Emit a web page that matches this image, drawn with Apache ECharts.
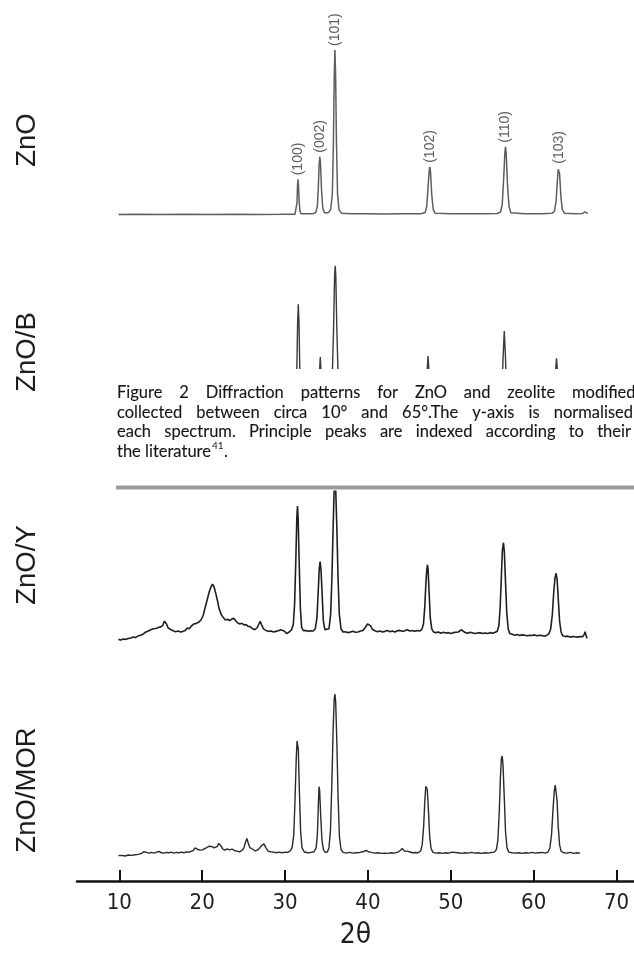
<!DOCTYPE html>
<html>
<head>
<meta charset="utf-8">
<script src="https://cdn.jsdelivr.net/npm/echarts@6/dist/echarts.min.js"></script>
<style>
  html, body { margin: 0; padding: 0; background: #fff; }
  #chart { width: 634px; height: 964px; }
</style>
</head>
<body>
<div id="chart"></div>
<script>
// ---- Diffraction data: [2θ (deg), normalised intensity] ----
const znoPattern = [
  [9.9,0],[12,0.001],[15,0],[18,0.001],[21,0],[24,0.001],[27,0],[29.5,0.001],[31.2,0.002],
  [31.35,0.012],[31.44,0.07],[31.5,0.17],[31.56,0.214],[31.62,0.18],[31.7,0.08],[31.8,0.02],[31.95,0.004],
  [33.3,0.004],[33.7,0.012],[33.9,0.05],[34.02,0.17],[34.12,0.31],[34.2,0.351],[34.28,0.31],[34.4,0.15],[34.55,0.04],[34.75,0.01],[35.2,0.01],
  [35.5,0.03],[35.7,0.12],[35.83,0.42],[35.93,0.82],[36.02,1.0],[36.1,0.85],[36.2,0.45],[36.33,0.13],[36.5,0.03],[36.8,0.008],
  [38,0.004],[40,0.005],[42,0.003],[44,0.005],[46.4,0.005],
  [46.9,0.012],[47.1,0.05],[47.27,0.18],[47.4,0.27],[47.47,0.29],[47.55,0.26],[47.7,0.12],[47.88,0.03],[48.1,0.008],
  [50,0.004],[52,0.005],[54,0.004],[55.6,0.006],
  [56,0.015],[56.2,0.06],[56.38,0.22],[56.52,0.38],[56.6,0.412],[56.68,0.37],[56.85,0.17],[57.02,0.05],[57.25,0.01],
  [59,0.004],[61,0.005],[62.2,0.007],
  [62.5,0.02],[62.7,0.08],[62.86,0.21],[62.96,0.275],[63.03,0.284],[63.12,0.25],[63.28,0.11],[63.45,0.03],[63.7,0.008],
  [65,0.004],[65.9,0.006],[66.15,0.016],[66.3,0.022],[66.4,0.01],[66.5,0.004]
];

const znoBetaPattern = [
  [10,0.02],[20,0.02],[30,0.02],[31.1,0.02],
  [31.25,0.06],[31.4,0.3],[31.52,0.65],[31.6,0.76],[31.68,0.65],[31.8,0.3],[31.95,0.06],[32.1,0.02],
  [33.8,0.02],[34.0,0.1],[34.15,0.33],[34.25,0.43],[34.35,0.33],[34.5,0.1],[34.7,0.02],
  [35.45,0.03],[35.65,0.22],[35.85,0.6],[35.98,0.94],[36.05,1.0],[36.12,0.94],[36.25,0.6],[36.45,0.22],[36.65,0.03],
  [46.7,0.02],[46.95,0.1],[47.12,0.33],[47.25,0.437],[47.38,0.33],[47.55,0.1],[47.8,0.02],
  [55.9,0.02],[56.1,0.1],[56.3,0.42],[56.45,0.593],[56.6,0.42],[56.8,0.1],[57.0,0.02],
  [62.2,0.02],[62.45,0.1],[62.62,0.33],[62.75,0.422],[62.88,0.33],[63.05,0.1],[63.3,0.02],
  [66,0.02]
];

const znoYPattern = [
  [9.9,0.004],[10.2,0.0],[10.5,0.006],[10.8,0.004],[11.1,0.01],[11.4,0.012],[11.7,0.018],[12.0,0.016],[12.3,0.026],[12.6,0.03],
  [12.9,0.038],[13.2,0.05],[13.5,0.056],[13.8,0.064],[14.1,0.07],[14.4,0.072],[14.7,0.078],[15.0,0.082],[15.25,0.092],[15.45,0.118],
  [15.55,0.13],[15.7,0.1],[15.9,0.075],[16.2,0.066],[16.5,0.058],[16.8,0.052],[17.1,0.056],[17.4,0.05],[17.7,0.054],[17.95,0.06],
  [18.2,0.075],[18.45,0.07],[18.75,0.09],[19.0,0.1],[19.3,0.104],[19.6,0.112],[19.85,0.125],[20.1,0.15],[20.35,0.2],[20.6,0.25],
  [20.85,0.3],[21.05,0.33],[21.25,0.35],[21.45,0.33],[21.65,0.29],[21.85,0.245],[22.05,0.195],[22.3,0.16],[22.55,0.14],[22.8,0.125],
  [23.05,0.13],[23.3,0.122],[23.55,0.13],[23.8,0.136],[24.05,0.12],[24.3,0.106],[24.55,0.1],[24.8,0.104],[25.05,0.094],[25.3,0.096],
  [25.55,0.085],[25.8,0.084],[26.05,0.072],[26.35,0.064],[26.65,0.078],[26.85,0.1],[27.0,0.116],[27.15,0.098],[27.4,0.07],[27.7,0.06],
  [28.0,0.054],[28.3,0.056],[28.6,0.05],[28.9,0.054],[29.2,0.058],[29.45,0.064],[29.65,0.068],[29.9,0.056],[30.2,0.04],[30.5,0.05],
  [30.8,0.065],[31.0,0.1],[31.15,0.22],[31.3,0.5],[31.42,0.76],[31.5,0.8375],[31.58,0.76],[31.7,0.5],[31.85,0.2],[32.0,0.08],
  [32.2,0.058],[32.5,0.06],[32.8,0.054],[33.1,0.058],[33.4,0.056],[33.65,0.07],[33.85,0.14],[34.0,0.3],[34.12,0.44],[34.23,0.49],
  [34.34,0.44],[34.48,0.28],[34.62,0.12],[34.8,0.065],[35.0,0.056],[35.3,0.07],[35.5,0.16],[35.65,0.38],[35.8,0.7],[35.92,0.93],
  [36.02,1.0],[36.12,0.93],[36.25,0.7],[36.4,0.38],[36.55,0.16],[36.75,0.07],[37.0,0.05],[37.3,0.052],[37.6,0.046],[37.9,0.05],
  [38.2,0.054],[38.5,0.048],[38.8,0.05],[39.1,0.056],[39.4,0.06],[39.7,0.08],[39.95,0.1],[40.1,0.108],[40.3,0.09],[40.55,0.066],
  [40.85,0.058],[41.15,0.052],[41.45,0.056],[41.75,0.05],[42.05,0.054],[42.35,0.06],[42.65,0.052],[42.95,0.056],[43.25,0.05],[43.55,0.058],
  [43.85,0.06],[44.15,0.054],[44.45,0.058],[44.75,0.064],[45.05,0.056],[45.35,0.06],[45.65,0.054],[45.95,0.06],[46.25,0.056],[46.5,0.066],
  [46.7,0.1],[46.85,0.2],[47.0,0.36],[47.1,0.44],[47.18,0.469],[47.26,0.44],[47.38,0.3],[47.52,0.14],[47.7,0.07],[47.9,0.05],
  [48.2,0.046],[48.5,0.05],[48.8,0.042],[49.1,0.048],[49.4,0.044],[49.7,0.046],[50.0,0.04],[50.3,0.046],[50.6,0.048],[50.9,0.05],
  [51.1,0.058],[51.25,0.064],[51.45,0.052],[51.75,0.046],[52.05,0.042],[52.35,0.048],[52.65,0.044],[52.95,0.04],[53.25,0.044],[53.55,0.046],
  [53.85,0.04],[54.15,0.044],[54.45,0.04],[54.75,0.046],[55.05,0.042],[55.35,0.048],[55.6,0.055],[55.8,0.09],[55.95,0.2],[56.1,0.4],
  [56.22,0.56],[56.35,0.608],[56.46,0.55],[56.6,0.36],[56.75,0.17],[56.92,0.07],[57.1,0.04],[57.4,0.036],[57.7,0.03],[58.0,0.034],
  [58.3,0.028],[58.6,0.032],[58.9,0.03],[59.2,0.026],[59.5,0.03],[59.8,0.028],[60.1,0.032],[60.4,0.026],[60.7,0.03],[61.0,0.028],
  [61.3,0.024],[61.6,0.03],[61.85,0.04],[62.05,0.07],[62.25,0.16],[62.42,0.3],[62.57,0.39],[62.7,0.417],[62.82,0.38],[62.96,0.26],
  [63.12,0.12],[63.3,0.05],[63.5,0.026],[63.8,0.022],[64.1,0.024],[64.4,0.018],[64.7,0.022],[65.0,0.02],[65.3,0.018],[65.6,0.022],
  [65.9,0.02],[66.1,0.035],[66.2,0.052],[66.3,0.03],[66.45,0.01]
];

const znoMorPattern = [
  [9.9,0.002],[10.3,0.004],[10.7,0.0],[11.1,0.006],[11.5,0.004],[11.9,0.008],[12.3,0.01],[12.7,0.016],[12.95,0.026],[13.1,0.032],
  [13.3,0.022],[13.6,0.018],[13.9,0.022],[14.2,0.018],[14.5,0.024],[14.8,0.028],[15.1,0.02],[15.4,0.018],[15.7,0.022],[16.0,0.02],
  [16.3,0.024],[16.6,0.018],[16.9,0.022],[17.2,0.02],[17.5,0.024],[17.8,0.02],[18.1,0.026],[18.4,0.022],[18.7,0.03],[18.95,0.034],
  [19.15,0.05],[19.3,0.056],[19.5,0.04],[19.8,0.036],[20.05,0.038],[20.3,0.046],[20.55,0.052],[20.8,0.06],[21.0,0.064],[21.2,0.058],
  [21.45,0.05],[21.65,0.046],[21.85,0.06],[22.0,0.078],[22.13,0.086],[22.3,0.06],[22.5,0.042],[22.75,0.036],[23.0,0.044],[23.3,0.038],
  [23.6,0.042],[23.9,0.034],[24.2,0.03],[24.5,0.026],[24.8,0.034],[25.05,0.05],[25.25,0.09],[25.4,0.108],[25.55,0.08],[25.75,0.052],
  [25.95,0.05],[26.15,0.04],[26.4,0.032],[26.65,0.036],[26.95,0.05],[27.2,0.066],[27.45,0.075],[27.7,0.05],[27.95,0.03],[28.25,0.026],
  [28.6,0.024],[28.95,0.02],[29.3,0.024],[29.65,0.02],[30.0,0.024],[30.3,0.022],[30.6,0.03],[30.85,0.05],[31.05,0.13],[31.2,0.34],
  [31.35,0.6],[31.45,0.71],[31.52,0.72],[31.6,0.66],[31.72,0.42],[31.88,0.15],[32.05,0.05],[32.3,0.026],[32.7,0.02],[33.1,0.022],
  [33.5,0.026],[33.75,0.05],[33.9,0.13],[34.02,0.32],[34.1,0.428],[34.18,0.4],[34.3,0.25],[34.45,0.1],[34.62,0.04],[34.85,0.022],
  [35.1,0.025],[35.3,0.05],[35.48,0.16],[35.65,0.45],[35.8,0.78],[35.93,0.97],[36.02,1.0],[36.11,0.95],[36.25,0.7],[36.4,0.36],
  [36.56,0.12],[36.75,0.04],[37.0,0.022],[37.4,0.018],[37.8,0.022],[38.2,0.018],[38.6,0.02],[39.0,0.022],[39.4,0.026],[39.75,0.034],
  [40.0,0.028],[40.4,0.022],[40.8,0.018],[41.2,0.02],[41.6,0.016],[42.0,0.018],[42.4,0.016],[42.8,0.02],[43.2,0.018],[43.6,0.024],
  [43.9,0.034],[44.15,0.047],[44.4,0.03],[44.7,0.03],[45.0,0.026],[45.35,0.02],[45.7,0.022],[46.05,0.02],[46.35,0.03],[46.55,0.07],
  [46.72,0.18],[46.86,0.34],[46.98,0.43],[47.07,0.438],[47.16,0.41],[47.3,0.28],[47.45,0.12],[47.62,0.045],[47.85,0.022],[48.2,0.018],
  [48.6,0.02],[49.0,0.016],[49.4,0.02],[49.8,0.018],[50.1,0.024],[50.3,0.03],[50.55,0.022],[50.9,0.02],[51.3,0.016],[51.7,0.02],
  [52.1,0.018],[52.5,0.022],[52.9,0.018],[53.3,0.02],[53.7,0.016],[54.1,0.02],[54.5,0.018],[54.9,0.022],[55.25,0.024],[55.5,0.04],
  [55.68,0.1],[55.85,0.28],[55.98,0.48],[56.1,0.6],[56.2,0.617],[56.3,0.56],[56.45,0.36],[56.6,0.15],[56.78,0.05],[57.0,0.024],
  [57.4,0.02],[57.8,0.018],[58.2,0.02],[58.6,0.016],[59.0,0.02],[59.4,0.018],[59.8,0.022],[60.2,0.018],[60.6,0.02],[61.0,0.022],
  [61.4,0.018],[61.75,0.026],[61.95,0.05],[62.15,0.13],[62.32,0.28],[62.48,0.4],[62.6,0.438],[62.7,0.43],[62.82,0.34],[62.96,0.18],
  [63.12,0.07],[63.3,0.03],[63.6,0.02],[64.0,0.018],[64.4,0.022],[64.8,0.016],[65.2,0.02],[65.6,0.018]
];

// Miller indices of the principal ZnO reflections and their 2θ positions
const millerIndices = ['(100)', '(002)', '(101)', '(102)', '(110)', '(103)'];
const reflectionAngles = [31.56, 34.2, 36.02, 47.47, 56.6, 63.03];

const sampleNames = ['ZnO', 'ZnO/B', 'ZnO/Y', 'ZnO/MOR'];
const tickValues = [10, 20, 30, 40, 50, 60, 70];

const captionLines = [
  ['Figure', '2', 'Diffraction', 'patterns', 'for', 'ZnO', 'and', 'zeolite', 'modified'],
  ['collected', 'between', 'circa', '10°', 'and', '65°.The', 'y-axis', 'is', 'normalised'],
  ['each', 'spectrum.', 'Principle', 'peaks', 'are', 'indexed', 'according', 'to', 'their']
];
const captionLastLine = 'the literature';
const captionRef = '41';

// ---- layout ----
const X_MIN = 4.9, X_MAX = 72.1;
const LEFT = 77;
// panel baselines (px) and the pixel height of a unit-normalised peak
const panels = [
  { zero: 214.5, unit: 164.5 },
  { zero: 426,   unit: 160.3 },
  { zero: 640,   unit: 160 },
  { zero: 856,   unit: 162 }
];
const Y_LO = -0.1, Y_HI = 1.1;
const AXIS_Y = 881;

const chart = echarts.init(document.getElementById('chart'), null, { renderer: 'canvas' });

const grids = panels.map(p => ({
  left: LEFT, right: 0,
  top: p.zero - Y_HI * p.unit,
  height: (Y_HI - Y_LO) * p.unit
}));
const lastBottom = grids[3].top + grids[3].height;

const xAxes = panels.map((p, i) => {
  const bottom = i === panels.length - 1;
  return {
    gridIndex: i, type: 'value', min: X_MIN, max: X_MAX,
    show: bottom,
    offset: bottom ? AXIS_Y - lastBottom : 0,
    axisLine: { show: true, onZero: false, lineStyle: { color: '#111', width: 2.6 } },
    axisTick: { show: true, inside: true, length: 11, customValues: tickValues,
                lineStyle: { color: '#111', width: 2 } },
    minorTick: { show: false },
    axisLabel: { show: true, customValues: tickValues, margin: 11,
                 fontFamily: 'DejaVu Sans Condensed', fontSize: 22, color: '#1e1e1e' },
    splitLine: { show: false },
    name: bottom ? '2θ' : '',
    nameLocation: 'middle', nameGap: 41,
    nameTextStyle: { fontFamily: 'DejaVu Sans Condensed', fontSize: 28, color: '#1e1e1e' }
  };
});

const yAxes = panels.map((p, i) => ({
  gridIndex: i, type: 'value', min: Y_LO, max: Y_HI, show: false
}));

function trace(data, i, color, width) {
  return {
    type: 'line', xAxisIndex: i, yAxisIndex: i, data: data,
    showSymbol: false, symbol: 'none', silent: true, animation: false,
    lineStyle: { color: color, width: width }, z: 2
  };
}

// peak tops for the index labels come from the ZnO trace itself
const labelPoints = reflectionAngles.map((a, k) => {
  let best = znoPattern[0];
  znoPattern.forEach(pt => { if (Math.abs(pt[0] - a) < 0.3 && pt[1] > best[1]) best = pt; });
  return { value: [best[0], best[1]], name: millerIndices[k] };
});

const series = [
  trace(znoPattern, 0, '#5e5e5e', 1.5),
  trace(znoBetaPattern, 1, '#3a3a3a', 1.4),
  trace(znoYPattern, 2, '#1f1f1f', 1.6),
  trace(znoMorPattern, 3, '#2a2a2a', 1.4),
  {
    type: 'scatter', xAxisIndex: 0, yAxisIndex: 0, data: labelPoints,
    symbolSize: 0, silent: true, animation: false, clip: false,
    label: {
      show: true, formatter: '{b}', position: 'top', distance: 4, rotate: 90,
      align: 'left', verticalAlign: 'middle',
      fontFamily: 'Liberation Sans', fontSize: 14, color: '#333'
    }
  }
];

// ---- caption block set over the second panel ----
const CAP_SIZE = 16.5;
const CAP_FONT = CAP_SIZE + 'px Lato';
const measureCtx = document.createElement('canvas').getContext('2d');
measureCtx.font = CAP_FONT;
const textW = s => measureCtx.measureText(s).width;
const capStyle = (t) => ({ text: t, font: CAP_FONT, fill: '#161616', stroke: '#161616', lineWidth: 0.12,
                           align: 'left', verticalAlign: 'middle' });

function justifiedWords(words, x0, lastStart, y) {
  const widths = words.map(textW);
  const inner = widths.slice(0, -1).reduce((a, b) => a + b, 0);
  const gap = (lastStart - x0 - inner) / (words.length - 1);
  const out = [];
  let x = x0;
  words.forEach((w, k) => {
    out.push({ type: 'text', x: x, y: y, z: 110, style: capStyle(w) });
    x += widths[k] + gap;
  });
  return out;
}
function justifiedToEnd(words, x0, xEnd, y) {
  const last = words[words.length - 1];
  return justifiedWords(words, x0, xEnd - textW(last), y);
}

const CAP_X = 117;
const capY = [393, 412.5, 432, 451.5];
const graphics = [];

sampleNames.forEach((name, i) => {
  const cy = [140, 352, 565, 790][i];
  graphics.push({ type: 'text', x: 27, y: cy, rotation: Math.PI / 2, z: 120,
    style: { text: name, font: '27.5px "Liberation Sans"', fill: '#1e1e1e',
             align: 'center', verticalAlign: 'middle' } });
});

graphics.push({ type: 'rect', z: 100, shape: { x: 104, y: 369, width: 530, height: 121.5 },
  style: { fill: '#ffffff' } });
graphics.push({ type: 'rect', z: 105, shape: { x: 116, y: 485.5, width: 518, height: 4 },
  style: { fill: '#9c9c9c' } });

graphics.push(...justifiedWords(captionLines[0], CAP_X, 572, capY[0]));
graphics.push(...justifiedToEnd(captionLines[1], CAP_X, 633, capY[1]));
graphics.push(...justifiedToEnd(captionLines[2], CAP_X, 631, capY[2]));

const litW = textW(captionLastLine);
graphics.push({ type: 'text', x: CAP_X, y: capY[3], z: 110, style: capStyle(captionLastLine) });
measureCtx.font = '10px Lato';
const refW = measureCtx.measureText(captionRef).width;
graphics.push({ type: 'text', x: CAP_X + litW + 1, y: capY[3] - 6, z: 110,
  style: { text: captionRef, font: '10px Lato', fill: '#161616', align: 'left', verticalAlign: 'middle' } });
graphics.push({ type: 'text', x: CAP_X + litW + refW + 1.5, y: capY[3], z: 110, style: capStyle('.') });

chart.setOption({
  animation: false,
  backgroundColor: '#ffffff',
  grid: grids,
  xAxis: xAxes,
  yAxis: yAxes,
  series: series,
  graphic: { elements: graphics }
});
</script>
</body>
</html>
